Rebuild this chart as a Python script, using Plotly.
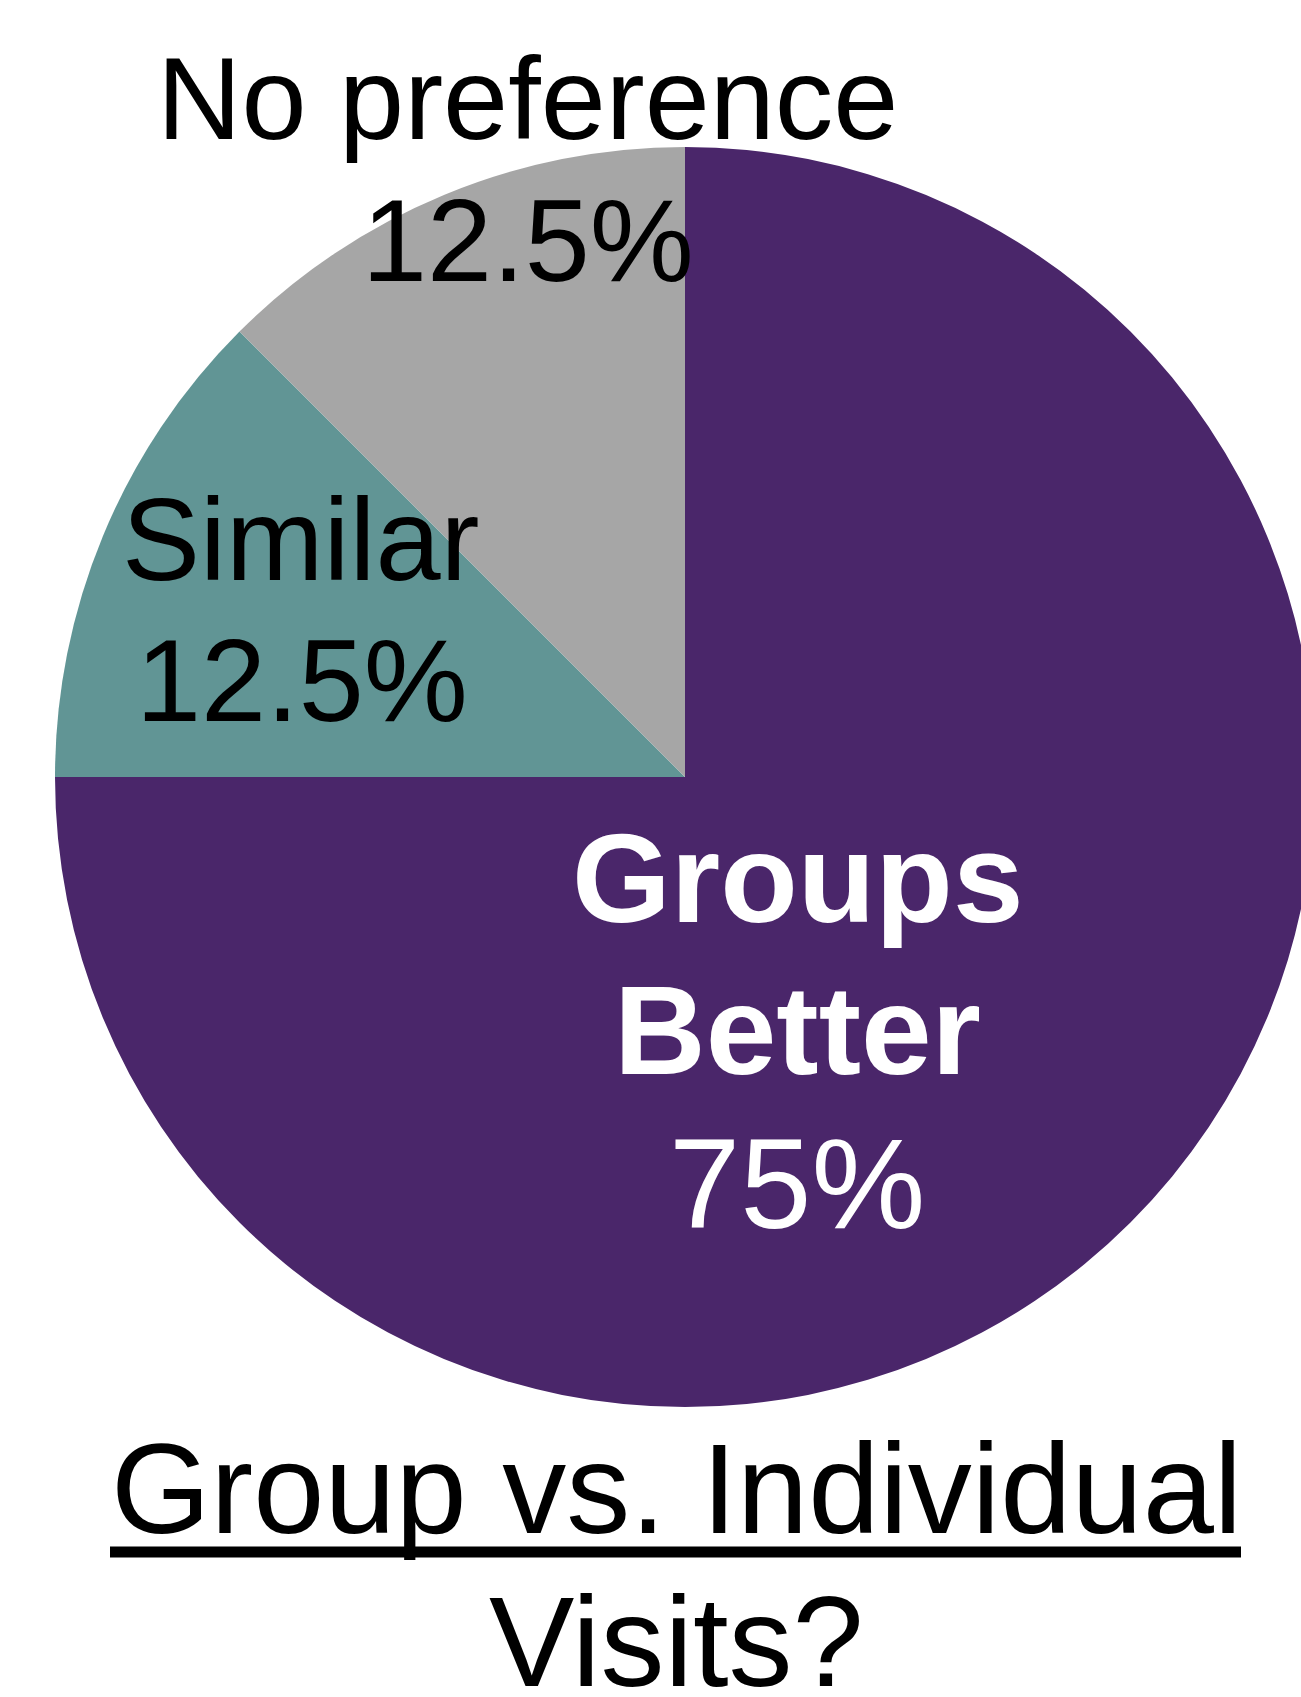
import plotly.graph_objects as go

# Survey responses: preference for group vs. individual visits
categories = ["Groups Better", "Similar", "No preference"]
shares = [75, 12.5, 12.5]
colors = ["#4A266A", "#619595", "#A6A6A6"]

title_lines = ["Group vs. Individual", "Visits?"]

W, H = 1320, 1697
FONT = "Arial, Liberation Sans, sans-serif"

# Pie geometry in pixels (center and radius)
cx, cy, r = 685, 777, 630

fig = go.Figure(
    go.Pie(
        labels=categories,
        values=shares,
        sort=False,
        direction="clockwise",
        rotation=0,
        marker=dict(colors=colors, line=dict(width=0)),
        textinfo="none",
        hoverinfo="label+percent",
        showlegend=False,
        domain=dict(
            x=[(cx - r) / W, (cx + r) / W],
            y=[(H - (cy + r)) / H, (H - (cy - r)) / H],
        ),
    )
)


def pct(v):
    return f"{v:g}%"


def label(text, x, y, size, color="black", bold=False):
    if bold:
        text = f"<b>{text}</b>"
    fig.add_annotation(
        text=text,
        x=x / W,
        y=1 - y / H,
        xref="paper",
        yref="paper",
        xanchor="center",
        yanchor="middle",
        showarrow=False,
        font=dict(family=FONT, size=size, color=color),
    )


# Slice labels: name on one line, share below
label("No preference", 527, 99, 117)
label(pct(shares[2]), 528, 240, 117)
label(categories[1], 301, 539, 117)
label(pct(shares[1]), 302, 680, 117)
label("Groups", 798, 878, 127, color="white", bold=True)
label("Better", 798, 1030, 127, color="white", bold=True)
label(pct(shares[0]), 797, 1183, 128, color="white")

# Title, with the first line underlined
label(title_lines[0], 676, 1488, 128)
label(title_lines[1], 676, 1641, 128)
fig.add_shape(
    type="line",
    xref="paper",
    yref="paper",
    x0=110 / W,
    x1=1241 / W,
    y0=1 - 1552 / H,
    y1=1 - 1552 / H,
    line=dict(color="black", width=11),
)

fig.update_layout(
    width=W,
    height=H,
    margin=dict(l=0, r=0, t=0, b=0),
    paper_bgcolor="white",
    plot_bgcolor="white",
)

fig.write_html(
    "out.html",
    config={"displayModeBar": False},
    post_script=(
        "document.documentElement.style.overflow='hidden';"
        "document.body.style.overflow='hidden';"
        "document.body.style.margin='0';"
    ),
)
